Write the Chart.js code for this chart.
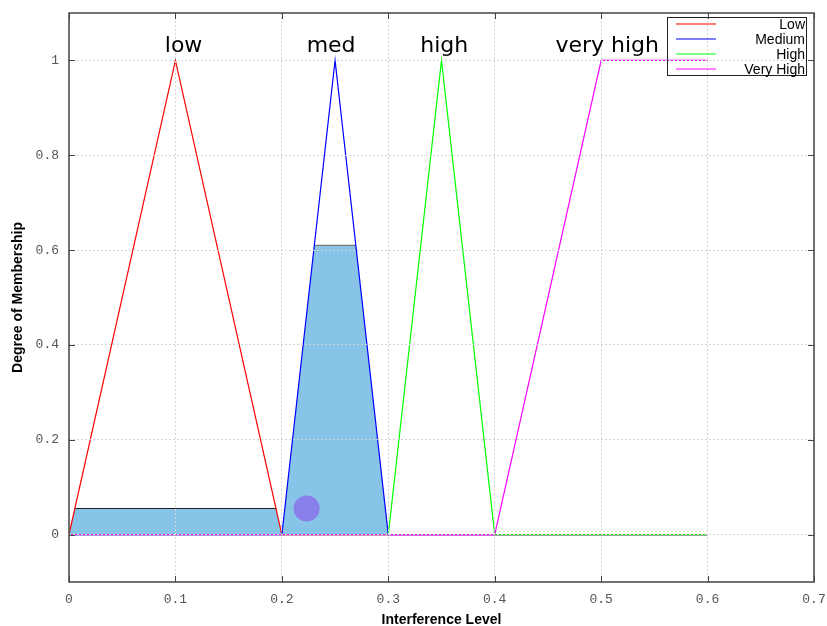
<!DOCTYPE html>
<html>
<head>
<meta charset="utf-8">
<script src="https://cdn.jsdelivr.net/npm/chart.js@4.4.0/dist/chart.umd.min.js"></script>
<style>
  html, body { margin: 0; padding: 0; background: #fff; }
  canvas { display: block; }
</style>
</head>
<body>
<canvas id="myChart" width="827" height="626"></canvas>
<script>
// membership functions
const lowX = [0, 0.1, 0.2, 0.6];
const lowY = [0, 1, 0, 0];
const medX = [0, 0.2, 0.25, 0.3, 0.6];
const medY = [0, 0, 1, 0, 0];
const highX = [0, 0.3, 0.35, 0.4, 0.6];
const highY = [0, 0, 1, 0, 0];
const vhighX = [0, 0.4, 0.5, 0.6];
const vhighY = [0, 0, 1, 1];

// aggregated (clipped) output
const aggX = [0, 0.0055, 0.1945, 0.2, 0.2305, 0.2695, 0.3];
const aggY = [0, 0.055, 0.055, 0, 0.61, 0.61, 0];
const lowCutX = [0.0055, 0.1945];
const lowCutY = [0.055, 0.055];
const medCutX = [0.2305, 0.2695];
const medCutY = [0.61, 0.61];
const centroidX = [0.2233];
const centroidY = [0.055];

const seriesNames = ['Low', 'Medium', 'High', 'Very High'];
const termLabels = ['low', 'med', 'high', 'very high'];
const termX = [0.09, 0.2233, 0.33, 0.457];
const termY = [1.018, 1.018, 1.018, 1.018];

const xTicks = [0, 0.1, 0.2, 0.3, 0.4, 0.5, 0.6, 0.7];
const yTicks = [0, 0.2, 0.4, 0.6, 0.8, 1];

function pts(xs, ys) {
  return xs.map((x, i) => ({ x: x, y: ys[i] }));
}

function lineSet(label, xs, ys, color, order) {
  return {
    label: label,
    data: pts(xs, ys),
    borderColor: color,
    backgroundColor: color,
    borderWidth: 1.2,
    pointRadius: 0,
    tension: 0,
    fill: false,
    order: order
  };
}

const decor = {
  id: 'decor',
  afterDraw(chart) {
    const c = chart.ctx;
    const ca = chart.chartArea;
    const xs = chart.scales.x;
    const ys = chart.scales.y;
    c.save();

    // inward tick marks
    c.strokeStyle = '#444';
    c.lineWidth = 1;
    xTicks.forEach(v => {
      const px = Math.round(xs.getPixelForValue(v)) + 0.5;
      c.beginPath(); c.moveTo(px, ca.bottom); c.lineTo(px, ca.bottom - 6); c.stroke();
      c.beginPath(); c.moveTo(px, ca.top); c.lineTo(px, ca.top + 6); c.stroke();
    });
    yTicks.forEach(v => {
      const py = Math.round(ys.getPixelForValue(v)) + 0.5;
      c.beginPath(); c.moveTo(ca.left, py); c.lineTo(ca.left + 6, py); c.stroke();
      c.beginPath(); c.moveTo(ca.right, py); c.lineTo(ca.right - 6, py); c.stroke();
    });

    // plot box
    c.strokeStyle = '#444';
    c.lineWidth = 1.5;
    c.strokeRect(ca.left, ca.top, ca.right - ca.left, ca.bottom - ca.top);

    // term labels
    c.fillStyle = '#000';
    c.font = '22px "DejaVu Sans"';
    c.textAlign = 'left';
    c.textBaseline = 'alphabetic';
    termLabels.forEach((t, i) => {
      c.fillText(t, xs.getPixelForValue(termX[i]), ys.getPixelForValue(termY[i]));
    });

    // legend
    const bx = ca.right - 147, by = ca.top + 4, bw = 139, bh = 58;
    c.strokeStyle = '#222';
    c.lineWidth = 1;
    c.strokeRect(bx + 0.5, by + 0.5, bw, bh);
    c.font = '14px "Liberation Sans", Arial, sans-serif';
    c.textAlign = 'right';
    c.textBaseline = 'middle';
    seriesNames.forEach((name, i) => {
      const ds = chart.data.datasets.find(d => d.label === name);
      const y = by + 7 + i * 15;
      c.strokeStyle = ds.borderColor;
      c.lineWidth = 1.2;
      c.beginPath(); c.moveTo(bx + 9, y); c.lineTo(bx + 49, y); c.stroke();
      c.fillStyle = '#000';
      c.fillText(name, bx + bw - 1, y + 1.5);
    });
    c.restore();
  }
};

const tickFont = { family: '"Liberation Mono", "Courier New", monospace', size: 13 };
const titleFont = { family: '"Liberation Sans", Arial, sans-serif', size: 14, weight: 'bold', lineHeight: 1 };

const ctx = document.getElementById('myChart').getContext('2d');
const chart = new Chart(ctx, {
  type: 'line',
  data: {
    datasets: [
      lineSet('Low', lowX, lowY, '#ff0000', 4),
      lineSet('Medium', medX, medY, '#0000ff', 3),
      lineSet('High', highX, highY, '#00ff00', 2),
      lineSet('Very High', vhighX, vhighY, '#ff00ff', 1),
      {
        label: 'aggregate',
        data: pts(aggX, aggY),
        borderWidth: 0,
        borderColor: 'rgba(0,0,0,0)',
        backgroundColor: '#87c4e8',
        pointRadius: 0,
        tension: 0,
        fill: 'origin',
        order: 7
      },
      lineSet('lowCut', lowCutX, lowCutY, '#222222', 6),
      lineSet('medCut', medCutX, medCutY, '#777777', 6),
      {
        type: 'scatter',
        label: 'centroid',
        data: pts(centroidX, centroidY),
        pointRadius: 13,
        pointBackgroundColor: '#8880e8',
        pointBorderWidth: 0,
        order: 5
      }
    ]
  },
  options: {
    responsive: false,
    animation: false,
    layout: { padding: { left: 0, right: 12, top: 11, bottom: 0 } },
    plugins: {
      legend: { display: false },
      tooltip: { enabled: false }
    },
    scales: {
      x: {
        type: 'linear',
        min: 0,
        max: 0.7,
        afterBuildTicks: s => { s.ticks = xTicks.map(v => ({ value: v })); },
        afterFit: s => { s.height = 44; s.paddingLeft = 0; s.paddingRight = 0; },
        ticks: {
          font: tickFont,
          color: '#555',
          padding: 10,
          maxRotation: 0,
          autoSkip: false,
          callback: v => String(v)
        },
        grid: { color: '#d4d4d4', lineWidth: 1, drawTicks: false, z: 1 },
        border: { display: false, dash: [2, 2] },
        title: {
          display: true,
          text: 'Interference Level',
          font: titleFont,
          color: '#000',
          padding: { top: 0, bottom: -1 }
        }
      },
      y: {
        type: 'linear',
        min: -0.1,
        max: 1.1,
        afterBuildTicks: s => { s.ticks = yTicks.map(v => ({ value: v })); },
        afterFit: s => { s.width = 69; s.paddingTop = 0; s.paddingBottom = 0; },
        ticks: {
          font: tickFont,
          color: '#555',
          padding: 10,
          autoSkip: false,
          callback: v => String(v)
        },
        grid: { color: '#d4d4d4', lineWidth: 1, drawTicks: false, z: 1 },
        border: { display: false, dash: [2, 2] },
        title: {
          display: true,
          text: 'Degree of Membership',
          font: titleFont,
          color: '#000',
          padding: { top: 11, bottom: 0 }
        }
      }
    }
  },
  plugins: [decor]
});
</script>
</body>
</html>
